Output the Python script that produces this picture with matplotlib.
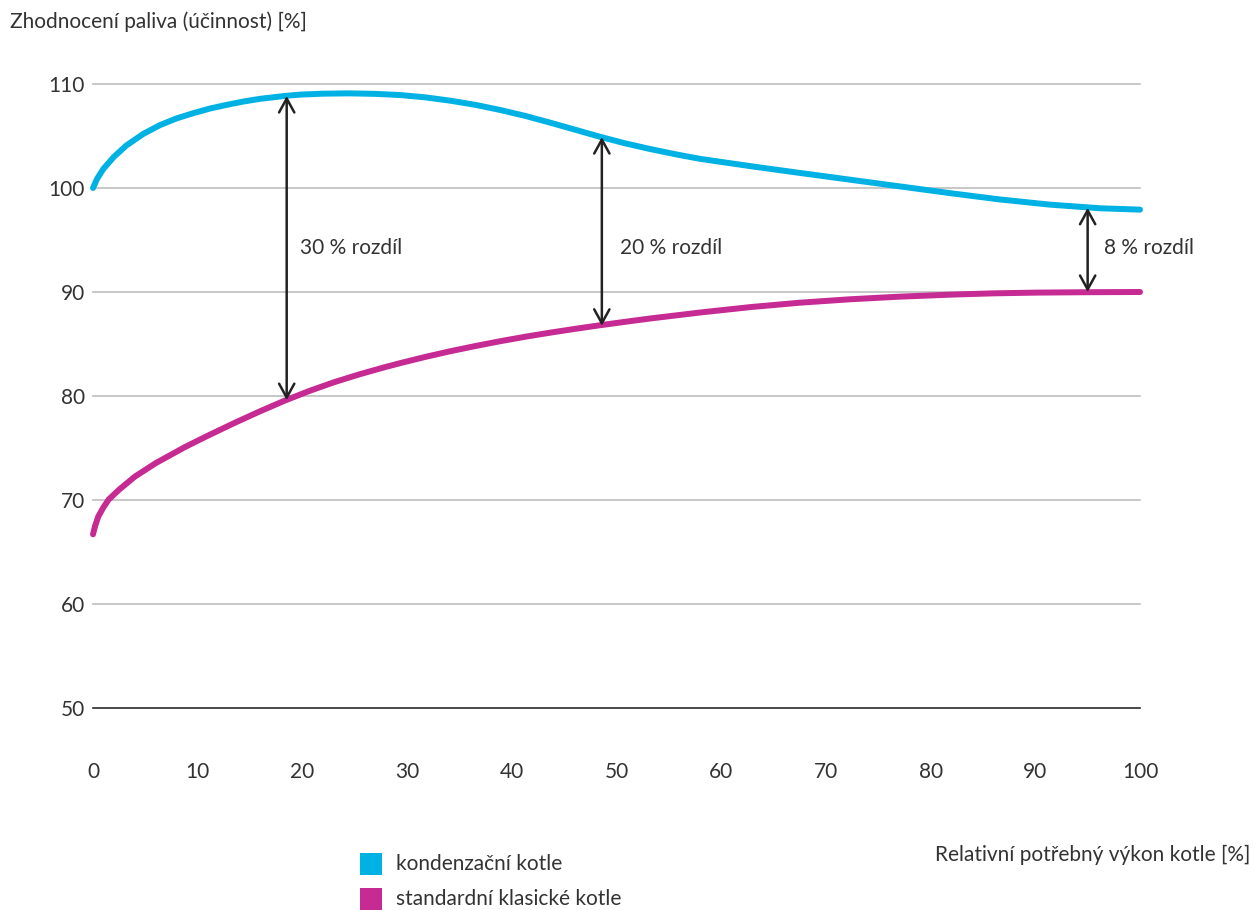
import matplotlib
matplotlib.use("Agg")
import matplotlib.pyplot as plt
from matplotlib.patches import Rectangle

plt.rcParams['font.family'] = ['Lato', 'DejaVu Sans']

# Relative required boiler output [%] and fuel utilisation [%]
cond_x = [0, 0.4, 1, 2, 3.2, 4.8, 6.4, 8, 9.6, 11.2, 12.8, 14.4, 16, 18.3, 19.8, 22, 24.5, 27, 29.3,
          31.7, 34.1, 36.5, 38.9, 41.3, 43.6, 46, 48.4, 50.8, 53.2, 55.6, 58, 62.8, 67.5, 72.3, 77.1,
          81.9, 86.6, 91.4, 96.2, 100]
cond_y = [100.0, 100.9, 101.85, 103.0, 104.1, 105.2, 106.05, 106.7, 107.2, 107.65, 108.0, 108.32, 108.58,
          108.85, 108.98, 109.07, 109.1, 109.05, 108.94, 108.72, 108.4, 108.0, 107.5, 106.93, 106.3,
          105.62, 104.93, 104.3, 103.75, 103.25, 102.8, 102.1, 101.45, 100.8, 100.15, 99.5, 98.9, 98.4,
          98.05, 97.92]

std_x = [0, 0.2, 0.5, 1, 1.5, 2.5, 4, 6, 8.8, 11, 13.6, 16, 18.3, 20.7, 23.1, 25.5, 27.9, 29.3, 31.7,
         34.1, 36.5, 38.9, 41.3, 43.6, 46, 48.4, 50.8, 53.2, 58, 62.8, 67.5, 72.3, 77, 82, 86, 90, 95, 100]
std_y = [66.7, 67.5, 68.4, 69.3, 70.05, 71.0, 72.25, 73.55, 75.1, 76.2, 77.45, 78.55, 79.55, 80.5, 81.35,
         82.1, 82.78, 83.15, 83.75, 84.3, 84.8, 85.27, 85.7, 86.08, 86.45, 86.8, 87.13, 87.45, 88.03,
         88.55, 88.97, 89.3, 89.55, 89.75, 89.87, 89.94, 89.98, 90.0]

series_names = ['kondenzační kotle', 'standardní klasické kotle']
series_colors = ['#00B1E4', '#C62A93']

# Difference markers: x position, upper value, lower value, label
gap_x = [18.5, 48.6, 95.0]
gap_top = [108.85, 104.9, 98.1]
gap_bottom = [79.6, 86.75, 90.0]
gap_labels = ['30 % rozdíl', '20 % rozdíl', '8 % rozdíl']
gap_label_x = [19.8, 50.3, 96.6]
gap_label_y = [94.2, 94.2, 94.2]

x_ticks = [0, 10, 20, 30, 40, 50, 60, 70, 80, 90, 100]
y_ticks = [50, 60, 70, 80, 90, 100, 110]

text_color = '#333333'
fs = 15
W, H = 1254, 910
fig = plt.figure(figsize=(W / 100, H / 100), dpi=100)
ax = fig.add_axes([93 / W, 1 - 708 / H, (1140 - 93) / W, (708 - 84) / H])
ax.set_xlim(0, 100)
ax.set_ylim(50, 110)

for s in ax.spines.values():
    s.set_visible(False)

for yv in y_ticks:
    if yv == 50:
        ax.axhline(yv, color='#2b2b2b', lw=1.2, zorder=1, clip_on=False)
    else:
        ax.axhline(yv, color='#bdbdbd', lw=1.2, zorder=1, clip_on=False)

ax.set_xticks(x_ticks)
ax.set_yticks(y_ticks)
ax.tick_params(length=0, labelsize=fs, colors=text_color)
ax.tick_params(axis='x', pad=39)
ax.tick_params(axis='y', pad=6)

ax.plot(cond_x, cond_y, color=series_colors[0], lw=4.3, solid_capstyle='round', solid_joinstyle='round',
        zorder=3, clip_on=False)
ax.plot(std_x, std_y, color=series_colors[1], lw=4.3, solid_capstyle='round', solid_joinstyle='round',
        zorder=3, clip_on=False)

for gx, gt, gb, lab, lx, ly in zip(gap_x, gap_top, gap_bottom, gap_labels, gap_label_x, gap_label_y):
    ax.annotate('', xy=(gx, gt), xytext=(gx, gb),
                arrowprops=dict(arrowstyle='<->,head_length=1.0,head_width=0.55', color='#222222', lw=1.8,
                                shrinkA=0, shrinkB=0), zorder=4)
    ax.text(lx, ly, lab, fontsize=fs, color=text_color, va='center', ha='left')

fig.text(10 / W, 1 - 22 / H, 'Zhodnocení paliva (účinnost) [%]', fontsize=fs, color=text_color,
         ha='left', va='center')
fig.text(1250 / W, 1 - 855 / H, 'Relativní potřebný výkon kotle [%]', fontsize=fs, color=text_color,
         ha='right', va='center')

leg_y = [864, 899]
for name, col, yy in zip(series_names, series_colors, leg_y):
    fig.patches.append(Rectangle((360 / W, 1 - (yy + 11) / H), 22 / W, 22 / H, transform=fig.transFigure,
                                 facecolor=col, edgecolor='none'))
    fig.text(396 / W, 1 - yy / H, name, fontsize=fs, color=text_color, ha='left', va='center')

fig.savefig('out.png', dpi=100, facecolor='white')
